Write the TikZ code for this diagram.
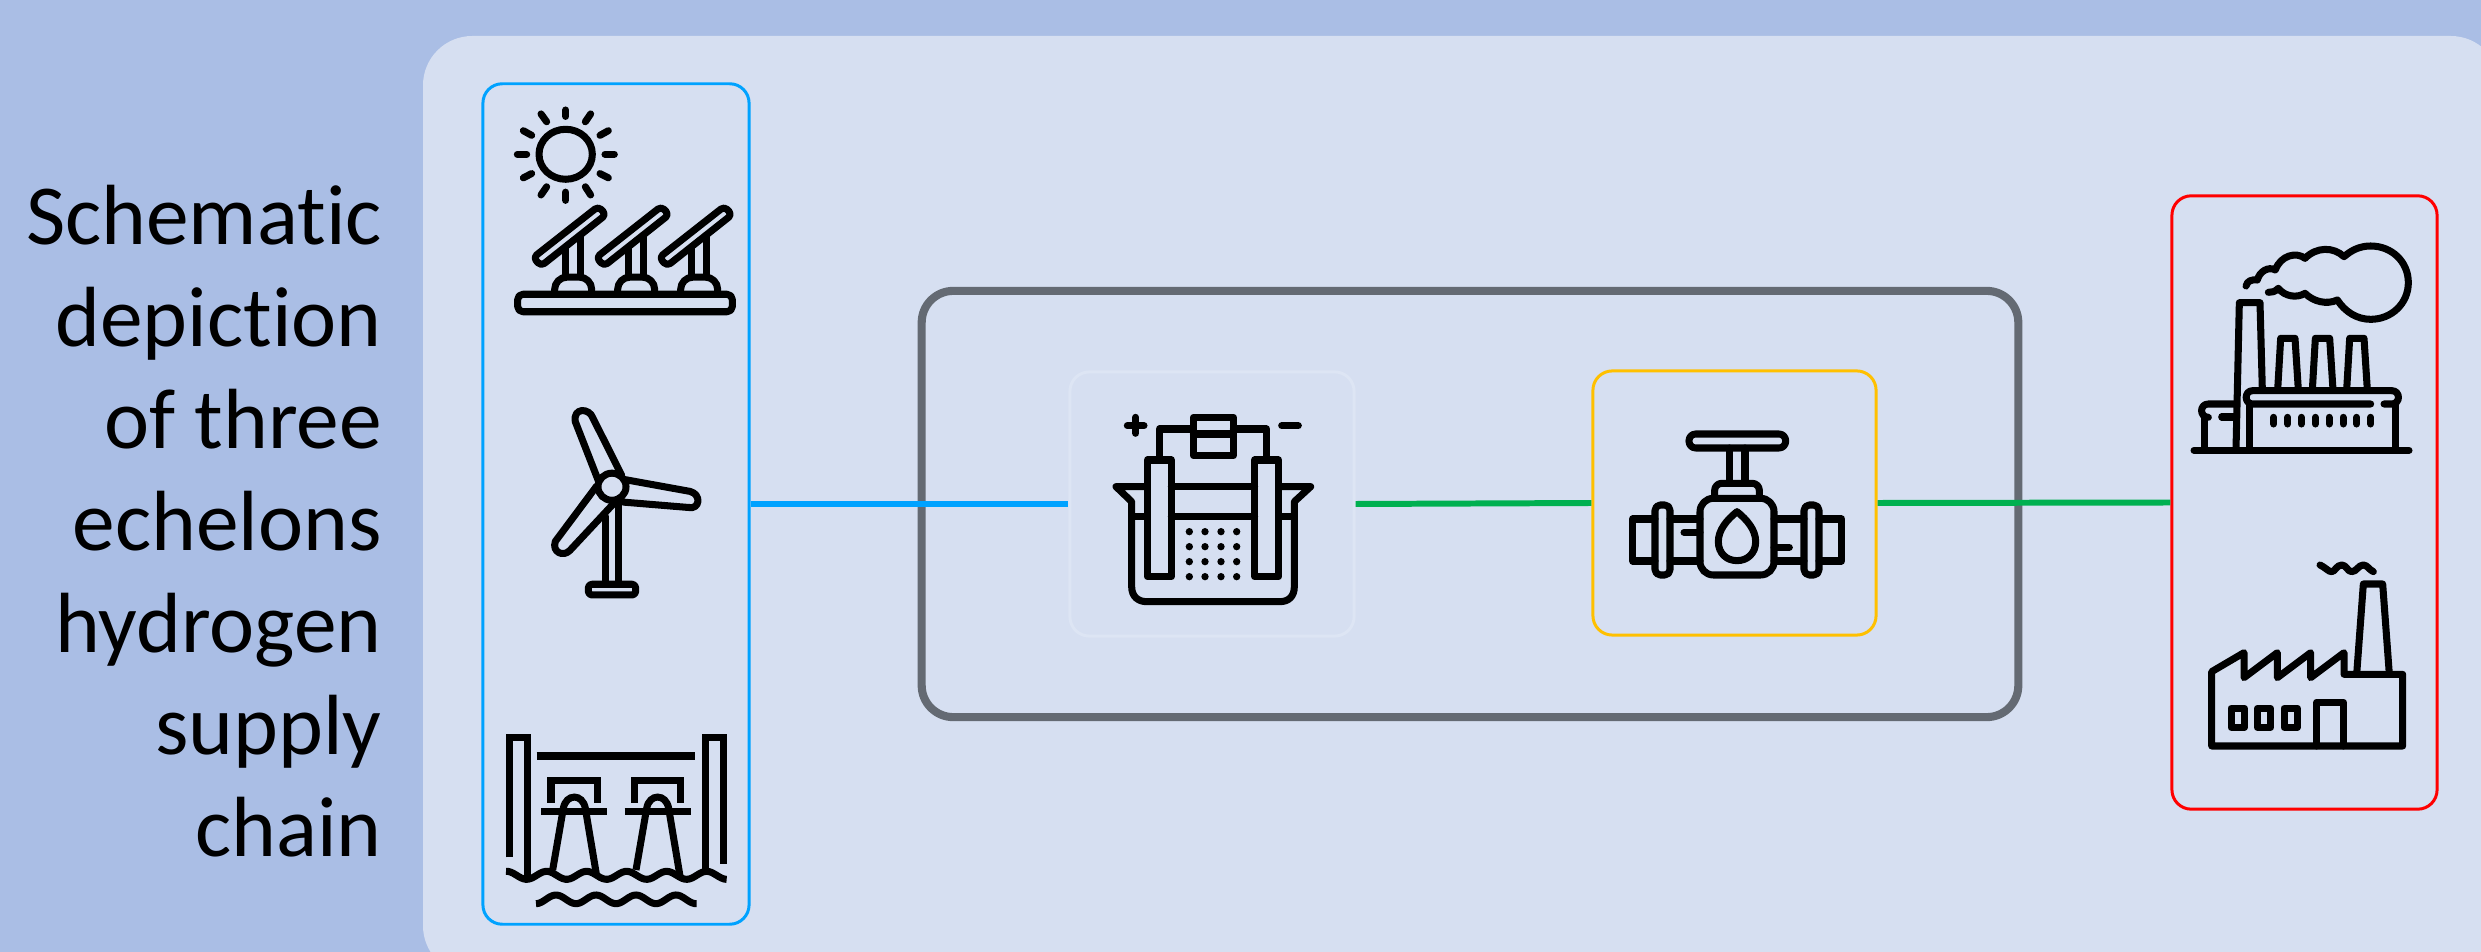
\documentclass[tikz,border=0pt]{standalone}
\usepackage{fontspec}
\setmainfont{Carlito}[Ligatures=NoCommon]
\usepackage{xcolor}
\usepackage{tikz}
\definecolor{backdrop}{HTML}{AABEE5}
\definecolor{panel}{HTML}{D6DFF1}
\definecolor{renew}{HTML}{00A2FF}
\definecolor{transfer}{HTML}{00B050}
\definecolor{storage}{HTML}{FFC000}
\definecolor{demand}{HTML}{FF0000}
\definecolor{hubgray}{HTML}{646A73}
\definecolor{faint}{HTML}{DDE5F4}
\tikzset{
  echelon/.style={draw, rounded corners=5.5pt, line width=0.85pt, inner sep=0pt},
  flow/.style={line width=1.7pt},
  icon/.style={line width=2pt, line join=round, line cap=round},
  iconbutt/.style={line width=2pt, line join=miter, line cap=butt}
}

\begin{document}
\begin{tikzpicture}[x=0.01cm, y=-0.01cm]
\clip (0,0) rectangle (2481,952);
% Backdrop and panel
\fill[backdrop] (0,0) rectangle (2481,952);
\fill[panel, rounded corners=14pt] (423,36) rectangle (2500,975);

\node[font=\fontsize{24.3}{29}\selectfont, align=right, anchor=east, inner sep=0pt] (title) at (382.5,521) {Schematic\\depiction\\of three\\echelons\\hydrogen\\supply\\chain};

% Echelon frames
\node[draw=hubgray, line width=2.3pt, rounded corners=9pt, minimum width=10.96cm, minimum height=4.26cm, inner sep=0pt] (hub) at (1470,504) {};
\node[echelon, draw=renew, minimum width=2.66cm, minimum height=8.40cm] (source) at (616,504) {};
\node[echelon, draw=faint, minimum width=2.84cm, minimum height=2.64cm] (electrolyser) at (1212,504) {};
\node[echelon, draw=storage, minimum width=2.83cm, minimum height=2.64cm] (valve) at (1734.5,503) {};
\node[echelon, draw=demand, minimum width=2.65cm, minimum height=6.13cm] (sink) at (2304.5,502.5) {};

% Connectors
\draw[flow, renew] (source.east) -- (electrolyser.west);
\draw[flow, transfer] (electrolyser.east) -- (valve.west);
\draw[flow, transfer] (valve.east) -- (sink.west);

% Solar panels
\begin{scope}[shift={(470,70)}, xscale=1/3, yscale=1/2.8]
\draw[icon] (287,236) circle[x radius=80, y radius=70];
\foreach \u/\v/\s/\t in {287/112/287/130, 287/342/287/365, 142/236/170/236, 405/236/433/236, 213/123/230/145, 362/123/346/145, 213/350/230/327, 362/350/346/327, 160/170/185/183, 415/170/390/183, 160/302/185/290, 415/302/390/290}
  \draw[icon] (\u,\v) -- (\s,\t);
\foreach \d in {0,189,378} {
  \draw[icon, rounded corners=1.2pt] (385+\d,382) -- (408+\d,405) -- (213+\d,549) -- (190+\d,525) -- cycle;
  \draw[icon] (287+\d,495) -- (287+\d,578);
  \draw[icon] (331+\d,465) -- (331+\d,578);
  \draw[icon, rounded corners=3.5pt] (254+\d,625) -- (254+\d,580) -- (365+\d,580) -- (365+\d,625);
}
\draw[icon, rounded corners=1.5pt] (143,628) rectangle (787,677);

% Wind turbine
\draw[icon] (426,1167) circle[x radius=42, y radius=38];
\draw[icon] (406,1250) -- (406,1440);
\draw[icon] (446,1212) -- (446,1440);
\draw[icon, rounded corners=1pt] (355,1440) rectangle (497,1470);
\draw[icon] (385,1150) -- (316,985) .. controls (308,945) and (358,945) .. (369,975) -- (455,1135);
\draw[icon] (465,1147) -- (660,1180) .. controls (695,1188) and (690,1232) .. (655,1225) -- (460,1210);
\draw[icon] (380,1165) -- (256,1320) .. controls (245,1350) and (280,1365) .. (300,1345) -- (430,1215);
\end{scope}

% Hydro dam
\begin{scope}[shift={(470,620)}, xscale=1/3, yscale=1/3]
\draw[iconbutt] (118,712) -- (118,352) -- (172,352) -- (172,780);
\draw[iconbutt] (706,750) -- (706,352) -- (760,352) -- (760,732);
\draw[iconbutt] (200,408) -- (676,408);
\foreach \d in {0,250} {
  \draw[iconbutt] (243+\d,548) -- (243+\d,482) -- (382+\d,482) -- (382+\d,548);
  \draw[iconbutt] (214+\d,575) -- (412+\d,575);
  \draw[iconbutt] (248+\d,750) -- (280+\d,565) .. controls (288+\d,520) and (338+\d,520) .. (346+\d,565) -- (380+\d,768);
}
\draw[iconbutt] plot[domain=108:770, samples=90, smooth] (\x,{766-12*cos(3*(\x-110))});
\draw[iconbutt] plot[domain=198:680, samples=70, smooth] (\x,{838-13*cos(3*(\x-258))});
\end{scope}

% Electrolyser
\begin{scope}[shift={(1050,360)}, xscale=1/3, yscale=1/3]
\draw[icon] (232,197) -- (282,197) (257,172) -- (257,220) (695,197) -- (745,197);
\draw[icon] (328,290) -- (328,207) -- (430,207) (550,207) -- (650,207) -- (650,290);
\draw[icon] (430,172) rectangle (550,287) (430,222) -- (550,222);
\foreach \d in {0,322}
  \draw[icon] (292+\d,300) rectangle (364+\d,650);
\draw[icon] (292,380) -- (198,380) -- (245,425) -- (245,680) .. controls (245,710) and (265,725) .. (290,725) -- (690,725) .. controls (715,725) and (733,710) .. (733,680) -- (733,425) -- (782,380) -- (686,380);
\draw[icon] (364,380) -- (614,380) (245,470) -- (292,470) (364,470) -- (614,470) (686,470) -- (733,470);
\foreach \u in {418,465,513,560}
  \foreach \v in {515,560,605,650}
    \fill (\u,\v) circle[radius=11];
\end{scope}

% Valve
\begin{scope}[shift={(1580,360)}, xscale=1/3, yscale=1/3]
\draw[icon, rounded corners=1.9pt] (327,222) rectangle (617,264);
\draw[icon] (448,264) -- (448,370) (495,264) -- (495,370);
\draw[icon, rounded corners=2pt] (404,410) -- (404,370) -- (538,370) -- (538,410);
\draw[icon, rounded corners=3.8pt] (360,415) rectangle (582,645);
\draw[icon] (471,455) .. controls (440,480) and (415,510) .. (415,545) .. controls (415,580) and (440,602) .. (471,602) .. controls (502,602) and (527,580) .. (527,545) .. controls (527,510) and (502,480) .. (471,455);
\foreach \d in {0,447}
  \draw[icon, rounded corners=1.5pt] (225+\d,435) rectangle (270+\d,645);
\draw[icon] (225,477) -- (158,477) -- (158,603) -- (225,603) (717,477) -- (785,477) -- (785,603) -- (717,603);
\draw[icon] (270,477) -- (360,477) (270,603) -- (360,603) (582,477) -- (672,477) (582,603) -- (672,603);
\draw[icon] (312,517) -- (360,517) (582,562) -- (628,562);
\end{scope}

% Power plant
\begin{scope}[shift={(2160,190)}, xscale=1/3, yscale=1/3]
\draw[icon] (228,778) -- (238,338) -- (300,338) -- (307,600);
\draw[icon] (102,781) -- (747,781);
\draw[icon] (258,288) .. controls (262,272) and (275,268) .. (292,270) .. controls (298,245) and (325,228) .. (346,240) .. controls (362,195) and (410,185) .. (435,205) .. controls (470,170) and (520,170) .. (552,200) .. controls (575,180) and (600,168) .. (632,168) .. controls (695,168) and (745,215) .. (745,278) .. controls (745,340) and (695,388) .. (632,388) .. controls (590,388) and (555,365) .. (532,330) .. controls (500,345) and (460,335) .. (435,310) .. controls (410,325) and (375,320) .. (355,295) .. controls (345,305) and (335,308) .. (325,307);
\foreach \d in {0,104,207}
  \draw[icon] (353+\d,600) -- (362+\d,445) -- (405+\d,445) -- (415+\d,600);
\draw[icon] (632,642) -- (278,642) .. controls (252,642) and (252,602) .. (278,602) -- (695,602) .. controls (722,602) and (722,642) .. (695,642) -- (672,642);
\draw[icon] (268,642) -- (268,775) (705,642) -- (705,775);
\foreach \u in {341,383,424,466,507,549,590,632}
  \draw[icon] (\u,682) -- (\u,702);
\draw[icon] (222,642) -- (145,642) .. controls (118,642) and (118,682) .. (145,682);
\draw[icon] (133,680) -- (133,775) (185,681) -- (222,681);
\end{scope}

% Factory
\begin{scope}[shift={(2160,520)}, xscale=1/3, yscale=1/3]
\draw[icon] (155,678) -- (155,455) -- (252,398) -- (252,473) -- (352,398) -- (352,473) -- (452,398) -- (452,473) -- (552,398) -- (552,463) -- (728,463) -- (728,678) -- cycle;
\draw[icon] (590,463) -- (610,192) -- (668,192) -- (688,463);
\draw[icon] (480,135) .. controls (500,145) and (505,155) .. (515,155) .. controls (525,155) and (530,135) .. (545,135) .. controls (560,135) and (562,155) .. (575,155) .. controls (590,155) and (595,135) .. (610,135) .. controls (622,135) and (628,150) .. (640,155);
\foreach \d in {0,79,159}
  \draw[icon] (213+\d,565) rectangle (253+\d,622);
\draw[icon] (470,678) -- (470,547) -- (550,547) -- (550,678);
\end{scope}
\end{tikzpicture}
\end{document}
